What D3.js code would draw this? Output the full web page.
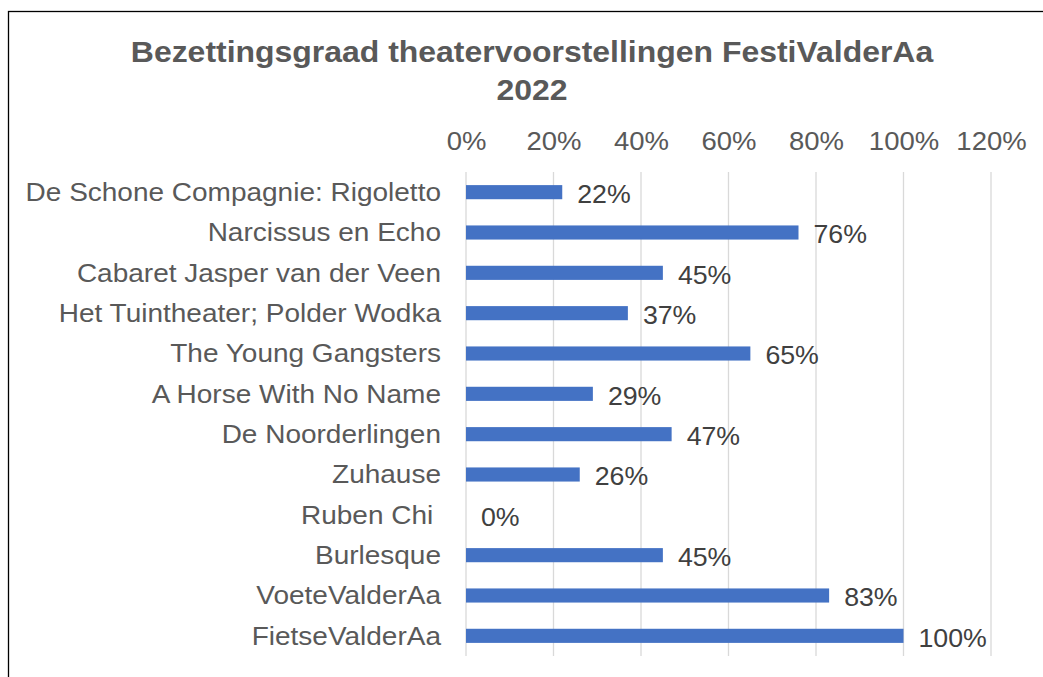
<!DOCTYPE html>
<html>
<head>
<meta charset="utf-8">
<script src="https://cdn.jsdelivr.net/npm/d3@7"></script>
<style>
  body { margin: 0; background: #fff; }
  svg { display: block; font-family: "Liberation Sans", Arial, sans-serif; }
</style>
</head>
<body>
<svg id="chart" width="1043" height="677"></svg>
<script>
const titleLines = ['Bezettingsgraad theatervoorstellingen FestiValderAa', '2022'];
const categories = [
      'De Schone Compagnie: Rigoletto',
      'Narcissus en Echo',
      'Cabaret Jasper van der Veen',
      'Het Tuintheater; Polder Wodka',
      'The Young Gangsters',
      'A Horse With No Name',
      'De Noorderlingen',
      'Zuhause',
      'Ruben Chi ',
      'Burlesque',
      'VoeteValderAa',
      'FietseValderAa'
];
const values = [22, 76, 45, 37, 65, 29, 47, 26, 0, 45, 83, 100];
const ticks = [0, 20, 40, 60, 80, 100, 120];

const SX = 1.1; // text in the picture is a bit stretched sideways

const svg = d3.select('#chart');

// chart area border (cropped at right and bottom)
svg.append('rect')
      .attr('x', 8.5).attr('y', 11.5)
      .attr('width', 1100).attr('height', 700)
      .attr('fill', 'none').attr('stroke', '#000').attr('stroke-width', 1.3);

const x = d3.scaleLinear().domain([0, 120]).range([466, 991]);
const y = d3.scaleBand().domain(categories).range([172, 656]).paddingInner(0.65).paddingOuter(0.325);

svg.selectAll('.title')
      .data(titleLines)
      .join('text')
      .attr('transform', (d, i) => `translate(532,${62 + i * 38}) scale(1.065,1)`)
      .attr('text-anchor', 'middle')
      .attr('font-size', 30)
      .attr('font-weight', 'bold')
      .attr('fill', '#595959')
      .text(d => d);

// gridlines
svg.selectAll('.grid')
      .data(ticks)
      .join('line')
      .attr('x1', d => x(d)).attr('x2', d => x(d))
      .attr('y1', 172).attr('y2', 656)
      .attr('stroke', '#d9d9d9').attr('stroke-width', 1.3);

// top axis
const axis = d3.axisTop(x).tickValues(ticks).tickFormat(d => d + '%').tickSize(0).tickPadding(0);
const g = svg.append('g').attr('transform', 'translate(0,150)').call(axis);
g.select('.domain').remove();
g.selectAll('text')
      .attr('font-size', 25)
      .attr('font-family', '"Liberation Sans", Arial, sans-serif')
      .attr('fill', '#595959')
      .attr('transform', `scale(${SX},1)`);

// category labels (keep trailing space of "Ruben Chi ")
svg.selectAll('.cat')
      .data(categories)
      .join('text')
      .attr('transform', d => `translate(441,${y(d) + y.bandwidth() / 2}) scale(${SX + 0.02},1)`)
      .attr('dy', '0.35em')
      .attr('text-anchor', 'end')
      .attr('font-size', 25)
      .attr('fill', '#595959')
      .style('white-space', 'pre')
      .text(d => d);

// bars
svg.selectAll('.bar')
      .data(values)
      .join('rect')
      .attr('x', x(0))
      .attr('y', (d, i) => y(categories[i]))
      .attr('width', d => x(d) - x(0))
      .attr('height', y.bandwidth())
      .attr('fill', '#4472c4');

// data labels
svg.selectAll('.lbl')
      .data(values)
      .join('text')
      .attr('transform', (d, i) => `translate(${x(d) + 15},${y(categories[i]) + y.bandwidth() / 2 + 2}) scale(${SX - 0.03},1)`)
      .attr('dy', '0.35em')
      .attr('font-size', 25)
      .attr('fill', '#404040')
      .text(d => d + '%');
</script>
</body>
</html>
